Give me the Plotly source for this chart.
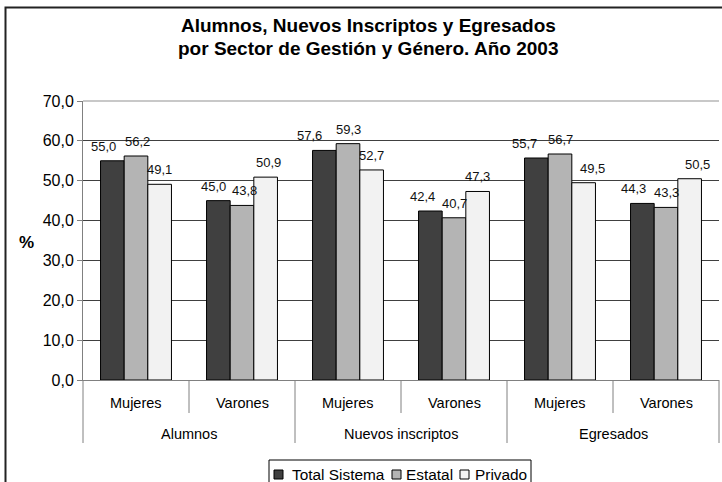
import plotly.graph_objects as go

# ---- data -------------------------------------------------------------
groups = ["Alumnos", "Nuevos inscriptos", "Egresados"]
genders = ["Mujeres", "Varones", "Mujeres", "Varones", "Mujeres", "Varones"]
series_names = ["Total Sistema", "Estatal", "Privado"]
total_sistema = [55.0, 45.0, 57.6, 42.4, 55.7, 44.3]
estatal = [56.2, 43.8, 59.3, 40.7, 56.7, 43.3]
privado = [49.1, 50.9, 52.7, 47.3, 49.5, 50.5]
y_ticks = [0, 10, 20, 30, 40, 50, 60, 70]
y_ticktext = ["0,0", "10,0", "20,0", "30,0", "40,0", "50,0", "60,0", "70,0"]

# ---- style ------------------------------------------------------------
FONT = "Liberation Sans, Arial, sans-serif"
colors = ["#404040", "#b4b4b4", "#f2f2f2"]
# horizontal nudges (px) for the value labels, per series
label_nudge = [
    [-9, -5, -15, -8, -12, -9],
    [1, 2, 0, 0, 0, 0],
    [0, 3, 0, 0, 9, 8],
]

W_FIG, H_FIG = 722, 482
L, R, T, B = 83, 719, 101, 380
PW, PH = R - L, B - T
BARGAP = 0.331


def px_x(px):
    return (px - L) / PW


def px_y(py):
    return (B - py) / PH


values = [total_sistema, estatal, privado]
xs = list(range(len(genders)))

fig = go.Figure()
for name, vals, col in zip(series_names, values, colors):
    fig.add_trace(go.Bar(
        x=xs, y=vals, name=name,
        marker=dict(color=col, line=dict(color="#000000", width=1)),
        showlegend=False,
    ))

annotations = []
shapes = []

# value labels above bars
bw = (1 - BARGAP) / len(series_names)
for j, vals in enumerate(values):
    for i, v in enumerate(vals):
        annotations.append(dict(
            x=i + (j - 1) * bw, y=v, xref="x", yref="y",
            text=f"{v:.1f}".replace(".", ","), showarrow=False,
            yanchor="middle", yshift=14.5, xshift=label_nudge[j][i],
            font=dict(family=FONT, size=13, color="#111111"),
        ))

# category labels (gender row and group row)
for i, g in enumerate(genders):
    annotations.append(dict(
        x=i, y=px_y(403), xref="x", yref="paper", text=g, showarrow=False,
        yanchor="middle", font=dict(family=FONT, size=14.5, color="#000000"),
    ))
for k, g in enumerate(groups):
    annotations.append(dict(
        x=2 * k + 0.5, y=px_y(434), xref="x", yref="paper", text=g,
        showarrow=False, yanchor="middle",
        font=dict(family=FONT, size=14.5, color="#000000"),
    ))

# y axis title
annotations.append(dict(
    x=px_x(26), y=px_y(243), xref="paper", yref="paper", text="<b>%</b>",
    showarrow=False, xanchor="center", yanchor="middle",
    font=dict(family=FONT, size=17, color="#000000"),
))

# chart title, two centred lines
title_lines = ["Alumnos, Nuevos Inscriptos y Egresados",
               "por Sector de Gestión y Género. Año 2003"]
for line, cy in zip(title_lines, (25, 48)):
    annotations.append(dict(
        x=px_x(368), y=px_y(cy), xref="paper", yref="paper", text=line,
        showarrow=False, xanchor="center", yanchor="middle",
        font=dict(family=FONT, size=19, color="#000000", weight="bold"),
    ))

# category dividers below the axis
n = len(genders)
for i in range(n + 1):
    bottom = 443 if i % 2 == 0 else 413
    shapes.append(dict(
        type="line", xref="paper", yref="paper",
        x0=i / n, x1=i / n, y0=0, y1=px_y(bottom),
        line=dict(color="#808080", width=1),
    ))

# top boundary of the value range
shapes.append(dict(
    type="line", xref="paper", yref="paper", x0=0, x1=1, y0=1, y1=1,
    line=dict(color="#c8c8c8", width=2),
))

# legend box
leg_items_x = [(274, 290), (392, 404), (460, 473)]
shapes.append(dict(
    type="rect", xref="paper", yref="paper",
    x0=px_x(269), x1=px_x(531), y0=px_y(460), y1=px_y(496),
    line=dict(color="#000000", width=1), fillcolor="rgba(0,0,0,0)",
))
for (sx, tx), name, col in zip(leg_items_x, series_names, colors):
    shapes.append(dict(
        type="rect", xref="paper", yref="paper",
        x0=px_x(sx), x1=px_x(sx + 9), y0=px_y(470), y1=px_y(479),
        line=dict(color="#000000", width=1), fillcolor=col,
    ))
    annotations.append(dict(
        x=px_x(tx), y=px_y(474), xref="paper", yref="paper", text=name,
        showarrow=False, xanchor="left", yanchor="middle",
        font=dict(family=FONT, size=15.4, color="#000000"),
    ))

# outer frame of the chart
shapes.append(dict(
    type="rect", xref="paper", yref="paper",
    x0=px_x(5.5), x1=px_x(740), y0=px_y(7.5), y1=px_y(500),
    line=dict(color="#222222", width=2), fillcolor="rgba(0,0,0,0)",
))

fig.update_layout(
    width=W_FIG, height=H_FIG,
    margin=dict(l=L, r=W_FIG - R, t=T, b=H_FIG - B, autoexpand=False),
    paper_bgcolor="#ffffff", plot_bgcolor="#ffffff",
    barmode="group", bargap=BARGAP, bargroupgap=0,
    showlegend=False,
    xaxis=dict(
        range=[-0.5, n - 0.5], showticklabels=False, ticks="",
        showgrid=False, zeroline=False, showline=True,
        linecolor="#808080", linewidth=1, fixedrange=True,
    ),
    yaxis=dict(
        range=[0, 70], tickvals=y_ticks, ticktext=y_ticktext,
        ticks="outside", ticklen=5, tickcolor="#808080",
        showgrid=True, gridcolor="#404040", gridwidth=1,
        zeroline=False, showline=True, linecolor="#808080", linewidth=1,
        tickfont=dict(family=FONT, size=16, color="#000000"),
        fixedrange=True,
    ),
    annotations=annotations,
    shapes=shapes,
)

fig.write_html("out.html")
